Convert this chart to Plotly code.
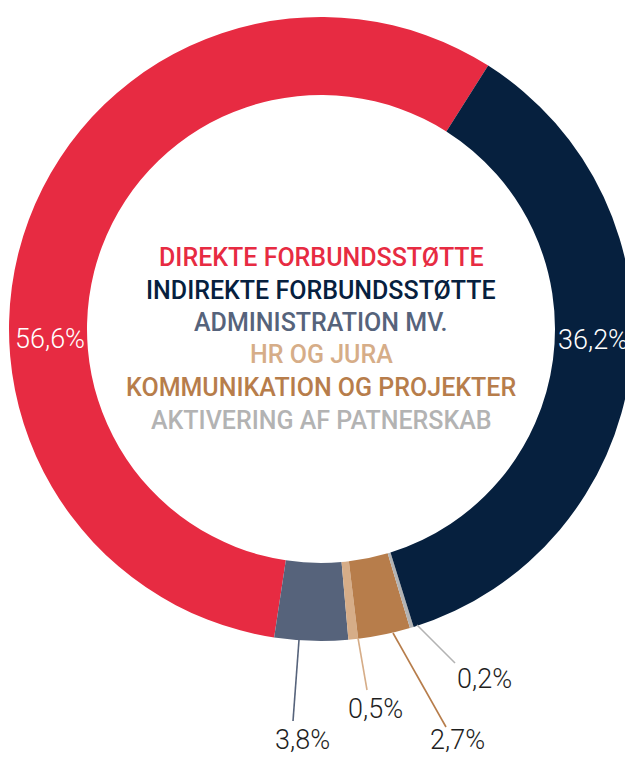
import plotly.graph_objects as go

# Data (counterclockwise from the red/navy boundary)
categories = ["DIREKTE FORBUNDSSTØTTE", "ADMINISTRATION MV.", "HR OG JURA",
              "KOMMUNIKATION OG PROJEKTER", "AKTIVERING AF PATNERSKAB",
              "INDIREKTE FORBUNDSSTØTTE"]
values = [56.6, 3.8, 0.5, 2.7, 0.2, 36.2]
value_labels = ["56,6%", "3,8%", "0,5%", "2,7%", "0,2%", "36,2%"]

# Legend (centre text) order
legend_order = ["DIREKTE FORBUNDSSTØTTE", "INDIREKTE FORBUNDSSTØTTE", "ADMINISTRATION MV.",
                "HR OG JURA", "KOMMUNIKATION OG PROJEKTER", "AKTIVERING AF PATNERSKAB"]

colors = {
    "DIREKTE FORBUNDSSTØTTE": "#E72B42",
    "INDIREKTE FORBUNDSSTØTTE": "#06203E",
    "ADMINISTRATION MV.": "#56637B",
    "HR OG JURA": "#D6AD88",
    "KOMMUNIKATION OG PROJEKTER": "#B77D4B",
    "AKTIVERING AF PATNERSKAB": "#B3B3B3",
}

W, H = 633, 757
OFF = 8  # page body margin offset
def px(x):
    return (x - OFF) / W
def py(y):
    return 1 - (y - OFF) / H

# red/navy boundary sits ~32.4 deg clockwise from 12 o'clock; plotly places the
# first slice clockwise of `rotation`, so shift by the first slice's angle
boundary = 32.4
rotation = boundary - 360 * values[0] / sum(values)

cx, cy, R = 321, 329, 312
fig = go.Figure()
fig.add_trace(go.Pie(
    labels=categories,
    values=values,
    sort=False,
    direction="counterclockwise",
    rotation=rotation,
    hole=0.75,
    marker=dict(colors=[colors[c] for c in categories], line=dict(width=0)),
    textinfo="none",
    hoverinfo="label+percent",
    showlegend=False,
    domain=dict(x=[px(cx - R), px(cx + R)], y=[py(cy + R), py(cy - R)]),
))

ann = []
# centre legend text
line_y = [257, 290.5, 322, 355, 387.5, 420]
for name, yv in zip(legend_order, line_y):
    ann.append(dict(x=px(321), y=py(yv), xref="paper", yref="paper", text=name,
                    showarrow=False, xanchor="center", yanchor="middle",
                    font=dict(family="Roboto", size=25, color=colors[name], weight=500)))

# labels in ring
ann.append(dict(x=px(50), y=py(339), xref="paper", yref="paper", text=value_labels[0],
                showarrow=False, xanchor="center", yanchor="middle",
                font=dict(family="Roboto", size=27, color="white", weight=300)))
ann.append(dict(x=px(593), y=py(340), xref="paper", yref="paper", text=value_labels[5],
                showarrow=False, xanchor="center", yanchor="middle",
                font=dict(family="Roboto", size=27, color="white", weight=300)))

# outside labels with leader lines
outside = [
    # (index, label centre, line start, line end)
    (1, (302, 740), (299, 640), (293, 721)),
    (2, (375, 709), (358, 638), (367, 690)),
    (3, (457, 740), (393, 633), (446, 727)),
    (4, (484, 679), (417, 625), (455, 663)),
]
shapes = []
for idx, (lx, ly), (x0, y0), (x1, y1) in outside:
    ann.append(dict(x=px(lx), y=py(ly), xref="paper", yref="paper", text=value_labels[idx],
                    showarrow=False, xanchor="center", yanchor="middle",
                    font=dict(family="Roboto", size=27, color="#1E1E1E", weight=300)))
    shapes.append(dict(type="line", xref="paper", yref="paper",
                       x0=px(x0), y0=py(y0), x1=px(x1), y1=py(y1),
                       line=dict(color=colors[categories[idx]], width=1.6)))

fig.update_layout(
    width=W, height=H,
    margin=dict(l=0, r=0, t=0, b=0),
    paper_bgcolor="white", plot_bgcolor="white",
    annotations=ann, shapes=shapes,
)

fig.write_html("out.html")
